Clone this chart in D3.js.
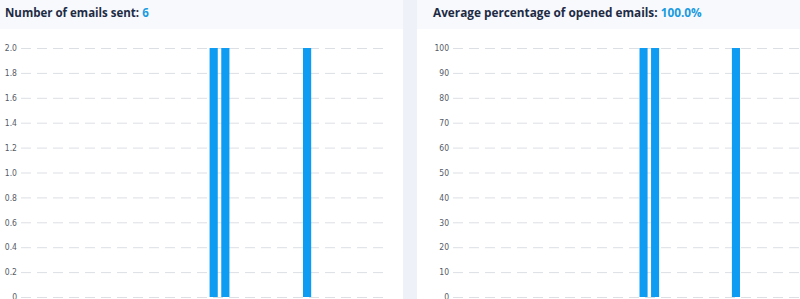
<!DOCTYPE html>
<html><head><meta charset="utf-8">
<script src="https://cdn.jsdelivr.net/npm/d3@7"></script>
<style>
html,body{margin:0;padding:0;background:#fff;overflow:hidden;}
svg{display:block;font-family:"Open Sans",Lato,sans-serif;}
</style></head>
<body>
<svg id="c" width="800" height="299"></svg>
<script>
const days = d3.range(1, 32).map(String);
const sentValues = [0,0,0,0,0,0,0,0,0,0,0,0,0,0,0,0,2,2,0,0,0,0,0,0,2,0,0,0,0,0,0];
const openedValues = [0,0,0,0,0,0,0,0,0,0,0,0,0,0,0,0,100,100,0,0,0,0,0,0,100,0,0,0,0,0,0];
const sentTicks = [0,0.2,0.4,0.6,0.8,1.0,1.2,1.4,1.6,1.8,2.0];
const openedTicks = [0,10,20,30,40,50,60,70,80,90,100];
const titles = [["Number of emails sent: ","6"],["Average percentage of opened emails: ","100.0%"]];

const svg = d3.select("#c");
svg.append("rect").attr("x",0).attr("y",0).attr("width",800).attr("height",299).attr("fill","#ffffff");
svg.append("rect").attr("x",0).attr("y",0).attr("width",403).attr("height",29).attr("fill","#f7f9fc");
svg.append("rect").attr("x",417).attr("y",0).attr("width",383).attr("height",29).attr("fill","#f7f9fc");
svg.append("rect").attr("x",403).attr("y",0).attr("width",14).attr("height",299).attr("fill","#eef2f8");

function panel(titleX, left, width, values, ticks, fmt, title, fs){
  const g = svg.append("g");
  const t = g.append("text").attr("x",titleX).attr("y",17)
    .attr("font-size",fs).attr("font-weight",700).attr("fill","#1e2b45");
  t.append("tspan").text(title[0]);
  t.append("tspan").attr("fill","#1a9be0").text(title[1]);

  const x = d3.scaleBand().domain(days).range([left, left+width]).paddingInner(0.3).paddingOuter(0.15);
  const y = d3.scaleLinear().domain([0, d3.max(ticks)]).range([297, 48]);

  const ax = d3.axisLeft(y).tickValues(ticks).tickFormat(fmt).tickSize(-width).tickPadding(4);
  const ag = g.append("g").attr("transform",`translate(${left},0)`).call(ax);
  ag.select(".domain").remove();
  ag.selectAll(".tick line").attr("stroke","#dcdfe4").attr("stroke-dasharray","10,6");
  ag.selectAll(".tick text").attr("fill","#555b66").attr("font-size",8.5)
    .attr("font-family","'Liberation Sans Narrow','DejaVu Sans Condensed',sans-serif");

  g.selectAll("rect.bar").data(values.map((v,i)=>({d:days[i],v})).filter(o=>o.v>0))
    .enter().append("rect").attr("class","bar")
    .attr("x",o=>x(o.d)).attr("width",x.bandwidth())
    .attr("y",o=>y(o.v)).attr("height",o=>y(0)-y(o.v))
    .attr("fill","#0e9cf3");
}
const fmtSent = v => v === 0 ? "0" : d3.format(".1f")(v);
panel(5, 21, 362, sentValues, sentTicks, fmtSent, titles[0], 11.5);
panel(433, 453, 358, openedValues, openedTicks, d3.format("d"), titles[1], 11.8);
</script>
</body></html>
